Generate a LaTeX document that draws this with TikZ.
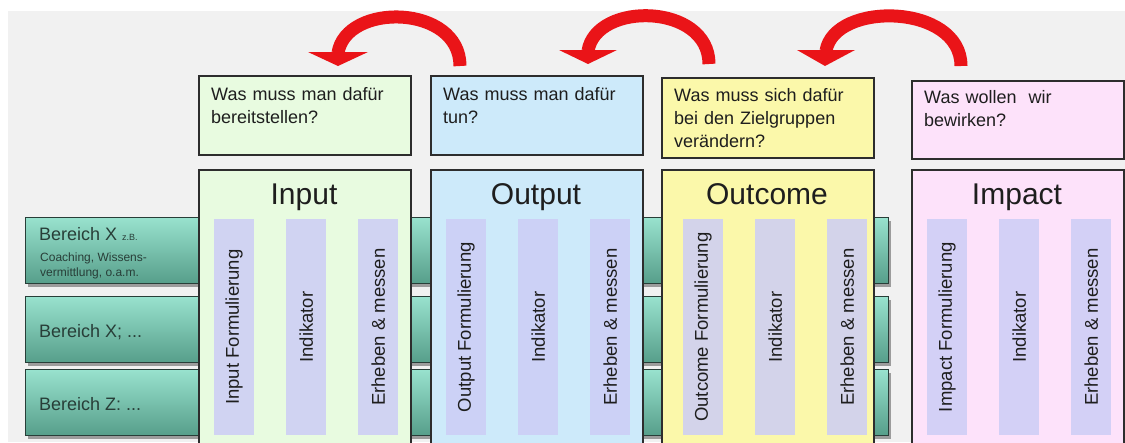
\documentclass[tikz,border=0pt]{standalone}
\usepackage{fontspec}
\setmainfont{Liberation Sans}
\usetikzlibrary{shadows}

\definecolor{bggray}{RGB}{241,241,241}
\definecolor{inputgreen}{RGB}{232,251,224}
\definecolor{outputblue}{RGB}{205,234,250}
\definecolor{outcomeyellow}{RGB}{251,248,170}
\definecolor{impactpink}{RGB}{253,226,250}
\definecolor{striplav}{RGB}{204,205,246}
\definecolor{bandtop}{RGB}{152,226,206}
\definecolor{bandbot}{RGB}{86,158,138}
\definecolor{bandline}{RGB}{40,62,56}
\definecolor{arrowred}{RGB}{234,20,24}
\definecolor{boxline}{RGB}{45,45,45}
\definecolor{txt}{RGB}{30,30,30}

\tikzset{
  question/.style={draw=boxline, line width=1.5pt, anchor=north west, minimum width=212pt, inner sep=0pt},
  qtext/.style={anchor=north west, inner sep=0pt, text width=195pt, align=left, text=txt,
    font=\fontsize{18}{23}\selectfont},
  column/.style={draw=boxline, line width=1.5pt, anchor=north west, minimum width=212pt,
    minimum height=280pt, inner sep=0pt},
  coltitle/.style={anchor=base, inner sep=0pt, text=txt, font=\fontsize{30}{32}\selectfont},
  strip/.style={fill=striplav, fill opacity=0.85, anchor=north west, minimum width=40pt,
    minimum height=216pt, inner sep=0pt},
  striptext/.style={rotate=90, inner sep=0pt, text=txt, font=\fontsize{18.5}{20}\selectfont},
  band/.style={draw=bandline, line width=1.1pt, top color=bandtop, bottom color=bandbot,
    anchor=north west, minimum width=863pt, minimum height=66pt, inner sep=0pt,
    drop shadow={shadow xshift=2pt, shadow yshift=-3pt, opacity=0.35, fill=black}},
  bandtext/.style={anchor=base west, inner sep=0pt, text=bandline, font=\fontsize{18}{20}\selectfont},
  shaft/.style={draw=arrowred, line width=13pt},
  head/.style={fill=arrowred}
}

\begin{document}
\begin{tikzpicture}[x=1pt, y=-1pt]
    \useasboundingbox (0,0) rectangle (1125,442);
    \clip (0,0) rectangle (1125,442);
    \fill[white] (0,0) rectangle (1125,442);
    \fill[bggray] (8,11) rectangle (1125,442);

    % Bereiche
    \foreach \y/\i in {217/1, 296/2, 369/3}
        \node[band] (band\i) at (25,\y) {};
    \node[bandtext] (bt1) at (39,240) {Bereich X {\fontsize{9}{10}\selectfont z.B.}};
    \node[bandtext, font=\fontsize{12}{14}\selectfont] (bt1a) at (40,261) {Coaching, Wissens-};
    \node[bandtext, font=\fontsize{12}{14}\selectfont] (bt1b) at (40,276) {vermittlung, o.a.m.};
    \node[bandtext] (bt2) at (39,337) {Bereich X; ...};
    \node[bandtext] (bt3) at (39,410) {Bereich Z: ...};

    % Spalten
    \foreach \x/\o/\f/\n in {198/16/inputgreen/Input, 430/16/outputblue/Output,
                             661/22/outcomeyellow/Outcome, 911/16/impactpink/Impact} {
        \node[column, fill=\f] (col\n) at (\x,169) {};
        \node[coltitle] (title\n) at (\x+106,204) {\n};
        \node[strip] (form\n) at (\x+\o,219) {};
        \node[strip] (ind\n) at (\x+\o+72,219) {};
        \node[strip] (mess\n) at (\x+\o+144,219) {};
        \node[striptext] at (form\n.center) {\n{} Formulierung};
        \node[striptext] at (ind\n.center) {Indikator};
        \node[striptext] at (mess\n.center) {Erheben \& messen};
    }

    % Fragen
    \node[question, fill=inputgreen, minimum height=79pt] (qInput) at (198,75) {};
    \node[question, fill=outputblue, minimum height=79pt] (qOutput) at (430,75) {};
    \node[question, fill=outcomeyellow, minimum height=80pt] (qOutcome) at (661,77) {};
    \node[question, fill=impactpink, minimum height=78pt] (qImpact) at (911,80) {};
    \node[qtext] (tInput) at (211,87) {Was muss man dafür\\bereitstellen?};
    \node[qtext] (tOutput) at (443,87) {Was muss man dafür\\tun?};
    \node[qtext] (tOutcome) at (674,88) {Was muss sich dafür\\bei den Zielgruppen\\verändern?};
    \node[qtext] (tImpact) at (924,90) {Was wollen\ \ wir\\bewirken?};

    % Pfeile
    \coordinate (a1s) at (460,66);
    \coordinate (a1e) at (338,53);
    \coordinate (a2s) at (709,64);
    \coordinate (a2e) at (588,51);
    \coordinate (a3s) at (961,66);
    \coordinate (a3e) at (826,51);
    \draw[shaft] (a1s) .. controls (460,4) and (346,2) .. (a1e);
    \fill[head] (308,52) -- (368,52) -- (338,66) -- cycle;
    \draw[shaft] (a2s) .. controls (709,3) and (596,1) .. (a2e);
    \fill[head] (559,50) -- (617,50) -- (588,64) -- cycle;
    \draw[shaft] (a3s) .. controls (961,3) and (834,1) .. (a3e);
    \fill[head] (797,50) -- (855,50) -- (825,66) -- cycle;
\end{tikzpicture}
\end{document}
